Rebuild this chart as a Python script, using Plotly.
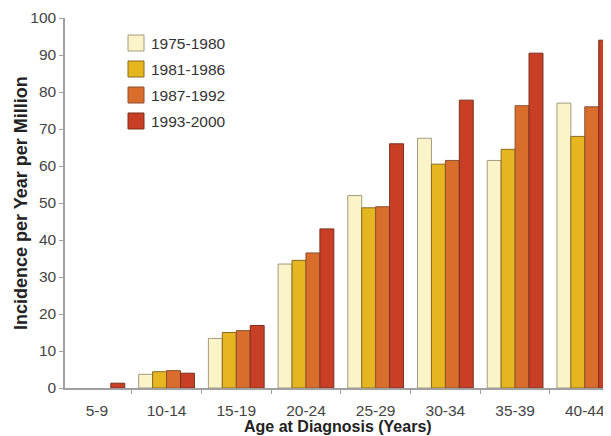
import plotly.graph_objects as go

categories = ["5-9", "10-14", "15-19", "20-24", "25-29", "30-34", "35-39", "40-44"]
series_names = ["1975-1980", "1981-1986", "1987-1992", "1993-2000"]
v1975 = [None, 3.7, 13.4, 33.5, 52.0, 67.5, 61.5, 77.0]
v1981 = [None, 4.4, 15.0, 34.5, 48.7, 60.5, 64.5, 68.0]
v1987 = [None, 4.7, 15.5, 36.5, 49.0, 61.5, 76.3, 76.0]
v1993 = [1.3, 4.0, 16.9, 43.0, 66.0, 77.8, 90.5, 94.0]
values = [v1975, v1981, v1987, v1993]
colors = ["#FBF4C9", "#E6B620", "#D96D2C", "#C83F26"]
outlines = ["#A39A80", "#8A6A20", "#8A5030", "#7A3020"]

# page has an 8px body margin; figure is sized to fill the rest of the window
OFF = 8
W, H = 611 - OFF, 436 - OFF
# target plot area in page pixels: left 65, top 18, right 611, bottom 388
ML, MT = 65 - OFF, 18 - OFF
MR, MB = 0, 436 - 388
PW, PH = W - ML - MR, H - MT - MB
FONT = "Liberation Sans, Arial, sans-serif"

fig = go.Figure()
for name, vals, c, oc in zip(series_names, values, colors, outlines):
    fig.add_trace(go.Bar(
        x=categories, y=vals, name=name,
        marker=dict(color=c, line=dict(color=oc, width=1)),
        showlegend=False,
    ))

def px_x(px):  # page px -> paper
    return (px - OFF - ML) / PW

def px_y(py):  # page px -> paper
    return (MT + PH - (py - OFF)) / PH

shapes = []
annotations = []
for i, (name, c, oc) in enumerate(zip(series_names, colors, outlines)):
    top = 35 + i * 26
    shapes.append(dict(type="rect", xref="paper", yref="paper",
                       x0=px_x(128), x1=px_x(144), y0=px_y(top + 16), y1=px_y(top),
                       fillcolor=c, line=dict(color=oc, width=1)))
    annotations.append(dict(xref="paper", yref="paper", x=px_x(149), y=px_y(top + 8.5),
                            xanchor="left", yanchor="middle", text=name, showarrow=False,
                            font=dict(family=FONT, size=15.5, color="#333333")))

annotations.append(dict(xref="paper", yref="paper", x=px_x(21), y=px_y(203),
                        xanchor="center", yanchor="middle", textangle=-90,
                        text="<b>Incidence per Year per Million</b>", showarrow=False,
                        font=dict(family=FONT, size=18, color="#222222")))
annotations.append(dict(xref="paper", yref="paper", x=0.5, y=px_y(426),
                        xanchor="center", yanchor="middle",
                        text="<b>Age at Diagnosis (Years)</b>", showarrow=False,
                        font=dict(family=FONT, size=16, color="#222222")))

fig.update_layout(
    width=W, height=H,
    margin=dict(l=ML, r=MR, t=MT, b=MB, pad=0, autoexpand=False),
    paper_bgcolor="white", plot_bgcolor="white",
    barmode="group", bargap=0.2, bargroupgap=0,
    shapes=shapes, annotations=annotations,
    font=dict(family=FONT, color="#444444"),
)
fig.update_xaxes(
    type="category", range=[-0.457, 7.376], automargin=False,
    showline=True, linecolor="#A0A0A0", linewidth=1.5,
    ticks="outside", tickson="boundaries", ticklen=4, tickcolor="#A0A0A0",
    showgrid=False, zeroline=False,
    tickfont=dict(family=FONT, size=15.5, color="#444444"),
    ticklabelstandoff=8,
)
fig.update_yaxes(
    range=[0, 100], dtick=10, automargin=False,
    showline=True, linecolor="#A0A0A0", linewidth=1.5,
    ticks="outside", ticklen=4, tickcolor="#A0A0A0",
    showgrid=False, zeroline=False,
    tickfont=dict(family=FONT, size=15.5, color="#444444"),
)

fig.write_html("out.html")
